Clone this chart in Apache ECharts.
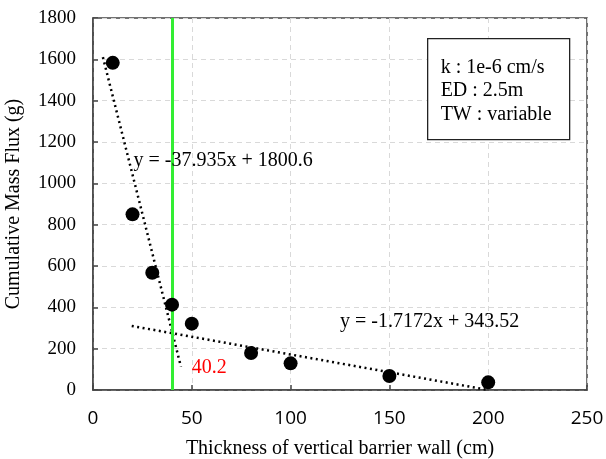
<!DOCTYPE html>
<html>
<head>
<meta charset="utf-8">
<script src="https://cdn.jsdelivr.net/npm/echarts@6/dist/echarts.min.js"></script>
<style>
  html, body { margin: 0; padding: 0; background: #fff; }
  #chart { width: 606px; height: 459px; }
</style>
</head>
<body>
<div id="chart"></div>
<script>
// Barrier wall thickness (cm) vs cumulative mass flux (g)
const thickness = [10, 20, 30, 40, 50, 80, 100, 150, 200];
const massFlux  = [1583, 850, 567, 413, 321, 179, 129, 68, 37];

// Linear trend lines: [slope, intercept] and the x-range each one spans
const trendCoef  = [[-37.935, 1800.6], [-1.7172, 343.52]];
const trendRange = [[5, 44.5], [19.6, 200]];
const trendText  = ['y = -37.935x + 1800.6', 'y = -1.7172x + 343.52'];
const trendTextAt = [[20.5, 1110], [125, 330]];

// Intersection marker
const crossX = 40;
const crossText = '40.2';
const crossTextAt = [50, 110];

const infoLines = ['k : 1e-6 cm/s', 'ED : 2.5m', 'TW : variable'];

const xTicks = [0, 50, 100, 150, 200, 250];
const yTicks = [0, 200, 400, 600, 800, 1000, 1200, 1400, 1600, 1800];

const serif = 'Liberation Serif';
const sans = 'Open Sans';

const chart = echarts.init(document.getElementById('chart'), null, { renderer: 'canvas' });

const trendSeries = trendCoef.map((c, i) => ({
  type: 'line',
  data: trendRange[i].map(x => [x, c[0] * x + c[1]]),
  symbol: 'none',
  lineStyle: { color: '#000', width: 2.5, type: [2, 3.5] },
  z: 3,
  silent: true
}));

chart.setOption({
  animation: false,
  backgroundColor: '#fff',
  textStyle: { fontFamily: serif },
  grid: { left: 93, right: 19, top: 18, bottom: 69, containLabel: false, outerBoundsMode: 'none',
    show: true, borderColor: '#444', borderWidth: 1.5 },
  xAxis: {
    type: 'value', min: 0, max: 250, interval: 50,
    name: 'Thickness of vertical barrier wall (cm)',
    nameLocation: 'middle', nameGap: 49,
    nameTextStyle: { fontFamily: serif, fontSize: 20, color: '#000' },
    axisLine: { show: true, lineStyle: { color: '#444', width: 1.5 } },
    axisTick: { show: true, inside: true, length: 5, lineStyle: { color: '#444', width: 1.5 } },
    axisLabel: { color: '#000', margin: 19,
      formatter: v => xTicks.includes(v) ? '{t|' + v + '}' : '',
      rich: { t: { fontFamily: sans, fontSize: 19, color: '#000' } } },
    splitLine: { show: true, lineStyle: { color: '#d9d9d9', type: [5, 4], width: 1 } }
  },
  yAxis: {
    type: 'value', min: 0, max: 1800, interval: 200,
    name: 'Cumulative Mass Flux (g)',
    nameLocation: 'middle', nameGap: 69, nameRotate: 90,
    nameTextStyle: { fontFamily: serif, fontSize: 20, color: '#000' },
    axisLine: { show: true, lineStyle: { color: '#444', width: 1.5 } },
    axisTick: { show: true, inside: true, length: 5, lineStyle: { color: '#444', width: 1.5 } },
    axisLabel: { color: '#000', margin: 17,
      formatter: v => yTicks.includes(v) ? '{t|' + v + '}' : '',
      rich: { t: { fontFamily: serif, fontSize: 19, color: '#000' } } },
    splitLine: { show: true, lineStyle: { color: '#d9d9d9', type: [5, 4], width: 1 } }
  },
  series: [
    {
      type: 'scatter',
      data: thickness.map((x, i) => [x, massFlux[i]]),
      symbol: 'circle', symbolSize: 14,
      itemStyle: { color: '#000', opacity: 1 },
      z: 5,
      markLine: {
        silent: true, symbol: 'none',
        label: { show: false },
        lineStyle: { color: '#33ee33', width: 3, type: 'solid', opacity: 1 },
        data: [{ xAxis: crossX }]
      }
    },
    ...trendSeries
  ]
});

// Annotation texts anchored at data coordinates
const toPx = p => chart.convertToPixel({ gridIndex: 0 }, p);
const annot = (at, text, color) => {
  const p = toPx(at);
  return { type: 'text', x: p[0], y: p[1], z: 10,
    style: { text: text, fill: color, fontFamily: serif, fontSize: 20, verticalAlign: 'middle', align: 'left' } };
};

chart.setOption({
  graphic: [
    annot(trendTextAt[0], trendText[0], '#000'),
    annot(trendTextAt[1], trendText[1], '#000'),
    annot(crossTextAt, crossText, '#ff0000'),
    {
      type: 'group', left: 427, top: 38, z: 10,
      children: [
        { type: 'rect', shape: { x: 0, y: 0, width: 142, height: 101 },
          style: { fill: '#fff', stroke: '#222', lineWidth: 1.3 } },
        { type: 'text', style: { x: 13, y: 17, text: infoLines.join('\n'), lineHeight: 23.5,
          fontFamily: serif, fontSize: 20, fill: '#000' } }
      ]
    }
  ]
});
</script>
</body>
</html>
